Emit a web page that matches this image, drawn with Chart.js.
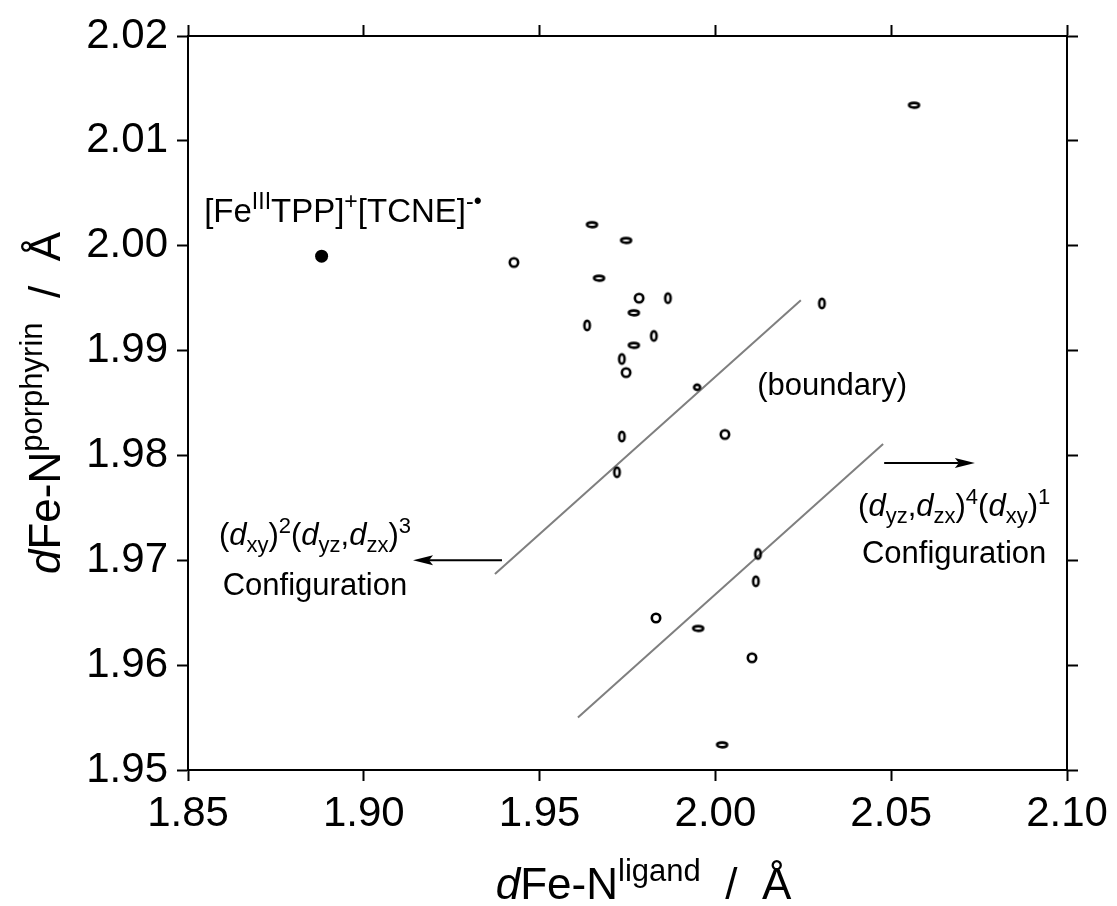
<!DOCTYPE html>
<html>
<head>
<meta charset="utf-8">
<script src="https://cdn.jsdelivr.net/npm/chart.js@4.4.0/dist/chart.umd.min.js"></script>
<style>
  html, body { margin: 0; padding: 0; background: #fff; }
  canvas { display: block; }
</style>
</head>
<body>
<canvas id="scatter" width="1117" height="906"></canvas>
<script>
// d(Fe-N ligand) vs d(Fe-N porphyrin), open marks = other complexes
const ligandDist = [1.9427, 1.9649, 1.9746, 1.9669, 1.9783, 1.9865, 1.9768, 1.9635,
  1.9825, 1.9768, 1.9734, 1.9746, 1.9948, 2.0303, 2.0565, 1.9734, 2.0027, 1.9720,
  2.0121, 2.0115, 1.9831, 1.9951, 2.0104, 2.0019];
const porphyrinDist = [1.9984, 2.0020, 2.0005, 1.9969, 1.9950, 1.9950, 1.9936, 1.9924,
  1.9914, 1.9905, 1.9892, 1.9879, 1.9865, 1.9945, 2.0134, 1.9818, 1.9820, 1.9784,
  1.9706, 1.9680, 1.9645, 1.9635, 1.9607, 1.9524];
// marker outline per point: h = flat ellipse, v = tall ellipse, c = circle, s = small circle
const markerShape = ['c', 'h', 'h', 'h', 'c', 'v', 'h', 'v', 'v', 'h', 'v', 'c', 's', 'v',
  'h', 'v', 'c', 'v', 'v', 'v', 'c', 'h', 'c', 'h'];

const tcneLigand = [1.888];
const tcnePorphyrin = [1.999];

// boundary lines
const upperLineX = [1.9373, 2.0243];
const upperLineY = [1.9687, 1.9948];
const lowerLineX = [1.9609, 2.0477];
const lowerLineY = [1.9550, 1.9811];

const xTicks = [1.85, 1.90, 1.95, 2.00, 2.05, 2.10];
const yTicks = [1.95, 1.96, 1.97, 1.98, 1.99, 2.00, 2.01, 2.02];

const FAMILY = '"Liberation Sans", Arial, Helvetica, sans-serif';

function ringMarker(rx, ry) {
  const c = document.createElement('canvas');
  c.width = Math.ceil(rx * 2 + 5);
  c.height = Math.ceil(ry * 2 + 5);
  const g = c.getContext('2d');
  g.lineWidth = 2.6;
  g.strokeStyle = '#000';
  g.beginPath();
  g.ellipse(c.width / 2, c.height / 2, rx, ry, 0, 0, Math.PI * 2);
  g.stroke();
  return c;
}
const markers = {
  h: ringMarker(5, 2.4),
  v: ringMarker(2.7, 4.8),
  c: ringMarker(4.2, 4.2),
  s: ringMarker(3, 2.6)
};

const pts = (xs, ys) => xs.map((x, i) => ({ x: x, y: ys[i] }));

// text pieces: it = italic, sup / sub = raised / lowered small text
const S = (t, o) => Object.assign({ t: t }, o || {});
function drawRich(ctx, segs, x, y, size, align) {
  const fontOf = s => (s.it ? 'italic ' : '') + Math.round(size * (s.sup || s.sub ? 0.7 : 1)) + 'px ' + FAMILY;
  let w = 0;
  segs.forEach(s => { ctx.font = fontOf(s); s.w = ctx.measureText(s.t).width; w += s.w; });
  let cx = align === 'center' ? x - w / 2 : x;
  ctx.textAlign = 'left';
  ctx.textBaseline = 'alphabetic';
  segs.forEach(s => {
    ctx.font = fontOf(s);
    const dy = s.sup ? -0.4 * size : (s.sub ? 0.22 * size : 0);
    ctx.fillText(s.t, cx, y + dy);
    cx += s.w;
  });
}

function arrow(ctx, x1, y1, x2, y2) {
  const ang = Math.atan2(y2 - y1, x2 - x1);
  const len = 20, half = 5;
  ctx.beginPath();
  ctx.moveTo(x1, y1);
  ctx.lineTo(x2 - Math.cos(ang) * len * 0.8, y2 - Math.sin(ang) * len * 0.8);
  ctx.stroke();
  ctx.beginPath();
  ctx.moveTo(x2, y2);
  ctx.lineTo(x2 - Math.cos(ang) * len - Math.sin(ang) * half, y2 - Math.sin(ang) * len + Math.cos(ang) * half);
  ctx.lineTo(x2 - Math.cos(ang) * len * 0.8, y2 - Math.sin(ang) * len * 0.8);
  ctx.lineTo(x2 - Math.cos(ang) * len + Math.sin(ang) * half, y2 - Math.sin(ang) * len - Math.cos(ang) * half);
  ctx.closePath();
  ctx.fill();
}

const notes = {
  id: 'notes',
  afterDraw(chart) {
    const ctx = chart.ctx;
    const xs = chart.scales.x, ys = chart.scales.y;
    const px = v => xs.getPixelForValue(v), py = v => ys.getPixelForValue(v);
    const area = chart.chartArea;
    ctx.save();
    ctx.fillStyle = '#000';
    ctx.strokeStyle = '#000';
    ctx.lineWidth = 2;

    drawRich(ctx, [S('[Fe'), S('III', { sup: true }), S('TPP]'), S('+', { sup: true }),
      S('[TCNE]'), S('-\u2022', { sup: true })], px(1.8546), py(2.00226), 33, 'left');

    drawRich(ctx, [S('(boundary)')], px(2.0332), py(1.98572), 31, 'center');

    drawRich(ctx, [S('('), S('d', { it: true }), S('xy', { sub: true }), S(')'), S('2', { sup: true }),
      S('('), S('d', { it: true }), S('yz', { sub: true }), S(','), S('d', { it: true }),
      S('zx', { sub: true }), S(')'), S('3', { sup: true })], px(1.8861), py(1.97146), 31, 'center');
    drawRich(ctx, [S('Configuration')], px(1.8861), py(1.96669), 31, 'center');

    drawRich(ctx, [S('('), S('d', { it: true }), S('yz', { sub: true }), S(','), S('d', { it: true }),
      S('zx', { sub: true }), S(')'), S('4', { sup: true }), S('('), S('d', { it: true }),
      S('xy', { sub: true }), S(')'), S('1', { sup: true })], px(2.0679), py(1.97422), 31, 'center');
    drawRich(ctx, [S('Configuration')], px(2.0679), py(1.96974), 31, 'center');

    arrow(ctx, px(1.9393), py(1.9700), px(1.9140), py(1.9700));
    arrow(ctx, px(2.0480), py(1.97928), px(2.0738), py(1.97928));

    // axis titles
    drawRich(ctx, [S('d', { it: true }), S('Fe-N'), S('ligand', { sup: true }), S('  /  \u00c5')],
      (area.left + area.right) / 2 + 16, 899, 44, 'center');
    ctx.save();
    ctx.translate(60, (area.top + area.bottom) / 2);
    ctx.rotate(-Math.PI / 2);
    drawRich(ctx, [S('d', { it: true }), S('Fe-N'), S('porphyrin', { sup: true }), S('  /  \u00c5')],
      0, 0, 44, 'center');
    ctx.restore();
    ctx.restore();
  }
};

const axisBase = {
  type: 'linear',
  border: { display: true, color: '#000', width: 2 },
  grid: { drawOnChartArea: false, drawTicks: true, tickLength: 11, tickColor: '#000', tickWidth: 2 }
};

new Chart(document.getElementById('scatter').getContext('2d'), {
  type: 'scatter',
  data: {
    datasets: [
      {
        label: 'complexes',
        data: pts(ligandDist, porphyrinDist),
        pointStyle: markerShape.map(s => markers[s]),
        pointRadius: 5
      },
      {
        label: '[FeTPP][TCNE]',
        data: pts(tcneLigand, tcnePorphyrin),
        pointStyle: 'circle',
        pointRadius: 6.5,
        backgroundColor: '#000',
        borderColor: '#000',
        borderWidth: 0
      },
      {
        label: 'boundary upper',
        type: 'line',
        data: pts(upperLineX, upperLineY),
        borderColor: '#7f7f7f',
        borderWidth: 2,
        pointRadius: 0,
        fill: false
      },
      {
        label: 'boundary lower',
        type: 'line',
        data: pts(lowerLineX, lowerLineY),
        borderColor: '#7f7f7f',
        borderWidth: 2,
        pointRadius: 0,
        fill: false
      }
    ]
  },
  options: {
    responsive: false,
    animation: false,
    devicePixelRatio: 1,
    layout: { padding: { top: 36, right: 50, bottom: 0, left: 0 } },
    plugins: { legend: { display: false }, tooltip: { enabled: false } },
    scales: {
      x: Object.assign({}, axisBase, {
        position: 'bottom', min: 1.85, max: 2.10,
        afterBuildTicks: s => { s.ticks = xTicks.map(v => ({ value: v })); },
        afterFit: s => { s.height = 136; },
        ticks: { color: '#000', padding: 8, maxRotation: 0, autoSkip: false,
          font: { family: FAMILY, size: 42 }, callback: v => v.toFixed(2) }
      }),
      y: Object.assign({}, axisBase, {
        position: 'left', min: 1.95, max: 2.02,
        afterBuildTicks: s => { s.ticks = yTicks.map(v => ({ value: v })); },
        afterFit: s => { s.width = 188; },
        ticks: { color: '#000', padding: 9, autoSkip: false,
          font: { family: FAMILY, size: 42 }, callback: v => v.toFixed(2) }
      }),
      x2: Object.assign({}, axisBase, {
        position: 'top', min: 1.85, max: 2.10,
        afterBuildTicks: s => { s.ticks = xTicks.map(v => ({ value: v })); },
        afterFit: s => { s.height = 0; },
        ticks: { display: false }
      }),
      y2: Object.assign({}, axisBase, {
        position: 'right', min: 1.95, max: 2.02,
        afterBuildTicks: s => { s.ticks = yTicks.map(v => ({ value: v })); },
        afterFit: s => { s.width = 0; },
        ticks: { display: false }
      })
    }
  },
  plugins: [notes]
});
</script>
</body>
</html>
